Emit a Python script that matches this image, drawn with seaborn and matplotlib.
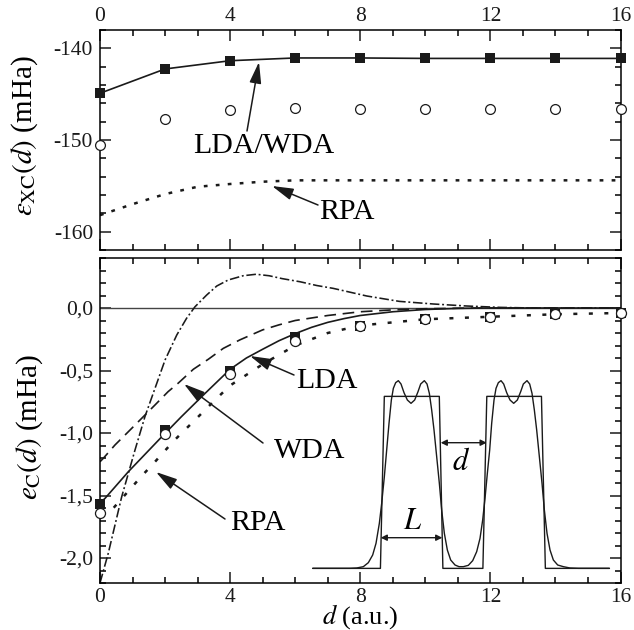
import matplotlib
matplotlib.use("Agg")
import matplotlib.pyplot as plt
import seaborn as sns
from matplotlib.patches import FancyArrowPatch
from matplotlib.ticker import FixedLocator, FixedFormatter

sns.set_theme(style="ticks")
plt.rcParams.update({
    "font.family": ["Liberation Serif", "DejaVu Serif"],
    "mathtext.fontset": "stix",
    "axes.linewidth": 1.1,
    "axes.edgecolor": "black",
    "text.color": "black",
    "xtick.color": "black",
    "ytick.color": "black",
})

# Top panel
d_even = [0, 2, 4, 6, 8, 10, 12, 14, 16]
xc_lda = [-144.9, -142.25, -141.35, -141.05, -141.05, -141.1, -141.1, -141.1, -141.1]
xc_wda = [-150.5, -147.75, -146.75, -146.5, -146.6, -146.6, -146.6, -146.6, -146.6]
d_rpa_xc = [0, 1, 2, 3, 4, 5, 6, 8, 12, 16]
xc_rpa = [-158.2, -157.0, -155.9, -155.1, -154.8, -154.55, -154.4, -154.4, -154.4, -154.4]

# Bottom panel
c_lda_pts = [-1.568, -0.976, -0.50, -0.23, -0.14, -0.09, -0.07, -0.05, -0.04]
c_wda_pts = [-1.64, -1.01, -0.53, -0.26, -0.14, -0.09, -0.07, -0.05, -0.04]
d_lda = [0, 0.154, 0.87, 1.9, 2.5, 3.23, 4, 4.5, 5, 5.5, 6, 6.5, 7, 7.5, 8, 9, 10, 11, 12, 16]
c_lda = [-1.56, -1.523, -1.31, -1.03, -0.87, -0.683, -0.49, -0.40, -0.33, -0.262, -0.205, -0.155, -0.115,
         -0.085, -0.06, -0.03, -0.012, -0.003, 0, 0]
d_wda = [0, 0.1, 0.46, 0.87, 1.28, 1.69, 2.09, 2.41, 2.87, 3.33, 3.79, 4.3, 5, 5.5, 6, 7, 8, 9, 10, 11, 12, 16]
c_wda = [-1.23, -1.203, -1.096, -0.99, -0.883, -0.776, -0.67, -0.60, -0.49, -0.41, -0.323, -0.255, -0.175,
         -0.135, -0.10, -0.06, -0.03, -0.015, -0.006, -0.002, 0, 0]
d_rpa = [0, 0.36, 0.99, 1.31, 1.63, 1.95, 2.28, 2.63, 2.97, 3.5, 4, 5, 6, 7, 8, 10, 12, 14, 16]
c_rpa = [-1.65, -1.616, -1.43, -1.336, -1.248, -1.155, -1.06, -0.97, -0.883, -0.745, -0.62, -0.45, -0.30,
         -0.20, -0.14, -0.09, -0.07, -0.05, -0.04]
d_dd = [0, 0.256, 0.667, 1.076, 1.38, 1.69, 2.0, 2.36, 2.66, 2.92, 3.28, 3.59, 3.94, 4.4, 4.8, 5.2, 5.6, 6.15, 6.66,
        7.17, 8.2, 9.2, 10.25, 11.27, 12.3, 13.3, 16]
c_dd = [-2.2, -1.96, -1.51, -1.136, -0.87, -0.643, -0.416, -0.216, -0.083, 0.01, 0.104, 0.176, 0.224, 0.258, 0.27,
        0.258, 0.235, 0.21, 0.18, 0.157, 0.096, 0.053, 0.032, 0.016, 0.005, 0, 0]

# Inset schematic: square wells and density, read in bottom-panel units / crop pixels
well_x = [6.54, 8.62, 8.74, 10.43, 10.54, 11.77, 11.89, 13.57, 13.69, 15.66]
well_y = [-2.083, -2.083, -0.707, -0.707, -2.083, -2.083, -0.707, -0.707, -2.083, -2.083]
dens_zx = [-112, 0, 20, 40, 55, 68, 78, 88, 95, 103, 110, 117, 124, 130, 137, 145, 153, 162, 172, 183, 194, 204, 212,
           223, 231, 238, 245, 252, 260, 268, 275, 283, 292, 302, 315, 327, 340, 355, 368, 380, 390, 398, 405, 412,
           419, 425, 432, 438, 445, 453, 461, 470, 480, 491, 502, 512, 520, 531, 539, 546, 553, 560, 568, 576, 583,
           591, 600, 610, 623, 640, 660, 685, 778]
dens_zy = [595, 595, 594, 590, 578, 555, 520, 460, 400, 320, 240, 160, 90, 55, 38, 32, 42, 68, 90, 100, 90, 65, 42,
           32, 42, 70, 120, 180, 260, 340, 420, 490, 540, 570, 585, 590, 590, 586, 572, 545, 505, 450, 385, 310,
           240, 160, 90, 55, 38, 32, 42, 68, 90, 100, 90, 65, 42, 32, 42, 70, 120, 180, 260, 340, 420,
           490, 540, 570, 585, 590, 594, 595, 595]
dens_x = [(350 + v / 3 - 100) / 32.53 for v in dens_zx]
dens_y = [(308 - (370 + v / 3)) / 125 for v in dens_zy]

W, H = 634, 630
fig = plt.figure(figsize=(W / 100, H / 100), dpi=100, facecolor="white")
L, R = 100, 620.5
ax1 = fig.add_axes([L / W, (H - 250) / H, (R - L) / W, 220 / H])
ax2 = fig.add_axes([L / W, (H - 583) / H, (R - L) / W, 325 / H])


def px(x, y):
    return (x / W, 1 - y / H)


# top panel
sns.lineplot(x=d_even, y=xc_lda, ax=ax1, color="k", lw=1.2, errorbar=None, estimator=None)
sns.scatterplot(x=d_even, y=xc_lda, ax=ax1, marker="s", color="k", s=46, linewidth=0, clip_on=False, zorder=4)
sns.scatterplot(x=d_even, y=xc_wda, ax=ax1, marker="o", facecolor="white", edgecolor="k", s=50, linewidth=0.9,
                clip_on=False, zorder=4)
sns.lineplot(x=d_rpa_xc, y=xc_rpa, ax=ax1, color="k", lw=1.8, linestyle=(0, (1.5, 3.3)), errorbar=None, estimator=None)

# bottom panel
ax2.axhline(0, color="#444444", lw=1)
sns.lineplot(x=d_lda, y=c_lda, ax=ax2, color="k", lw=1.2, errorbar=None, estimator=None)
sns.lineplot(x=d_wda, y=c_wda, ax=ax2, color="k", lw=1.2, linestyle=(0, (7, 4)), errorbar=None, estimator=None)
sns.lineplot(x=d_rpa, y=c_rpa, ax=ax2, color="k", lw=1.8, linestyle=(0, (1.6, 4.6)), errorbar=None, estimator=None)
sns.lineplot(x=d_dd, y=c_dd, ax=ax2, color="k", lw=1.15, linestyle=(0, (6, 1.7, 1.2, 1.7)), errorbar=None, estimator=None)
sns.scatterplot(x=d_even, y=c_lda_pts, ax=ax2, marker="s", color="k", s=62, linewidth=0, clip_on=False, zorder=4)
sns.scatterplot(x=d_even, y=c_wda_pts, ax=ax2, marker="o", facecolor="white", edgecolor="k", s=52, linewidth=0.9,
                clip_on=False, zorder=5)
sns.lineplot(x=well_x, y=well_y, ax=ax2, color="k", lw=1, errorbar=None, estimator=None, sort=False)
sns.lineplot(x=dens_x, y=dens_y, ax=ax2, color="k", lw=1, errorbar=None, estimator=None, sort=False)

for ax in (ax1, ax2):
    ax.set_xlim(0, 16)
    ax.xaxis.set_major_locator(FixedLocator([0, 4, 8, 12, 16]))
    ax.xaxis.set_minor_locator(FixedLocator(list(range(17))))
    ax.tick_params(which="major", direction="in", length=8, width=1.1, top=True, bottom=True, left=True, right=True,
                   labelsize=15.5, pad=5, colors="k")
    ax.tick_params(which="minor", direction="in", length=4, width=1.1, top=True, bottom=True, left=True, right=True)
    ax.set_xlabel("")
    ax.set_ylabel("")

ax1.set_ylim(-162, -138)
ax1.yaxis.set_major_locator(FixedLocator([-160, -150, -140]))
ax1.yaxis.set_major_formatter(FixedFormatter(["-160", "-150", "-140"]))
ax1.yaxis.set_minor_locator(FixedLocator(list(range(-162, -137, 2))))
ax1.tick_params(axis="x", labeltop=True, labelbottom=False, pad=3)

ax2.set_ylim(-2.2, 0.4)
ax2.tick_params(axis="x", pad=3.5)
ax2.yaxis.set_major_locator(FixedLocator([-2.0, -1.5, -1.0, -0.5, 0.0]))
ax2.yaxis.set_major_formatter(FixedFormatter(["-2,0", "-1,5", "-1,0", "-0,5", "0,0"]))
ax2.yaxis.set_minor_locator(FixedLocator([-2.2 + 0.1 * i for i in range(27)]))

# labels
fs = 21
fig.text(*px(25, 136), r"$\varepsilon_{\mathrm{XC}}(d)$ (mHa)", rotation=90, ha="center", va="center", fontsize=fs)
fig.text(*px(30, 427), r"$e_{\mathrm{C}}(d)$ (mHa)", rotation=90, ha="center", va="center", fontsize=fs)
fig.text(*px(360, 623.5), r"$d$ (a.u.)", ha="center", va="baseline", fontsize=19)

arrow = dict(arrowstyle="-|>,head_width=0.36,head_length=1.3", mutation_scale=10, color="k", lw=1.1,
             shrinkA=0, shrinkB=0)
notes = [
    ("LDA/WDA", (264, 146), (247, 131), (259, 62)),
    ("RPA", (347, 212), (318, 205), (272, 186)),
    ("LDA", (327, 381), (294, 375), (250, 356)),
    ("WDA", (310, 451), (263, 443), (184, 384)),
    ("RPA", (258, 523), (225, 519), (156, 472)),
]
for label, t, a, b in notes:
    fig.text(*px(*t), label, ha="center", va="center", fontsize=21.5)
    fig.add_artist(FancyArrowPatch(px(*a), px(*b), transform=fig.transFigure, **arrow))

dbl = dict(arrowstyle="<|-|>,head_width=0.18,head_length=0.36", mutation_scale=10, color="k", lw=1,
           shrinkA=0, shrinkB=0)
fig.add_artist(FancyArrowPatch(px(380.7, 537.7), px(442.3, 537.7), transform=fig.transFigure, **dbl))
fig.add_artist(FancyArrowPatch(px(440.7, 442.7), px(486.7, 442.7), transform=fig.transFigure, **dbl))
fig.text(*px(412.7, 521.5), r"$L$", ha="center", va="center", fontsize=22)
fig.text(*px(461, 462), r"$d$", ha="center", va="center", fontsize=22)

fig.savefig("out.png", dpi=100)
